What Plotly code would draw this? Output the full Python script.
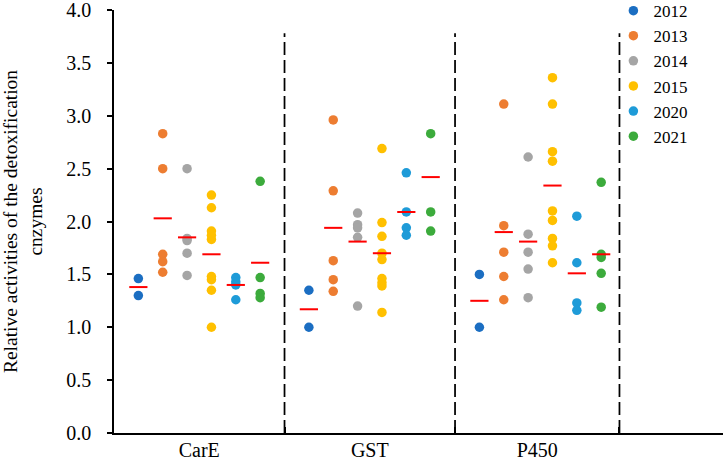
"""Scatter of relative detoxification enzyme activities by year, with mean dashes"""
import plotly.graph_objects as go

enzymes = ['CarE', 'GST', 'P450']
years = ['2012', '2013', '2014', '2015', '2020', '2021']
colours = ['#1b6ec2', '#ed7d31', '#a5a5a5', '#ffc000', '#1e9bd8', '#3cab3c']

# values per year, one list per enzyme (CarE, GST, P450)
v2012 = [[1.46, 1.30], [1.35, 1.00], [1.50, 1.00]]
v2013 = [[2.83, 2.50, 1.69, 1.62, 1.52],
         [2.96, 2.29, 1.63, 1.45, 1.34],
         [3.11, 1.96, 1.71, 1.48, 1.26]]
v2014 = [[2.50, 1.84, 1.82, 1.70, 1.49],
         [2.08, 1.97, 1.94, 1.85, 1.20],
         [2.61, 1.88, 1.71, 1.55, 1.28]]
v2015 = [[2.25, 2.13, 1.91, 1.87, 1.83, 1.48, 1.45, 1.35, 1.00],
         [2.69, 1.99, 1.86, 1.70, 1.64, 1.46, 1.42, 1.39, 1.14],
         [3.36, 3.11, 2.66, 2.57, 2.10, 2.01, 1.84, 1.77, 1.61]]
v2020 = [[1.47, 1.43, 1.40, 1.26],
         [2.46, 2.09, 1.94, 1.87],
         [2.05, 1.61, 1.23, 1.16]]
v2021 = [[2.38, 1.47, 1.32, 1.28],
         [2.83, 2.09, 1.91],
         [2.37, 1.69, 1.66, 1.51, 1.19]]

# mean dash per year (CarE, GST, P450)
m2012 = [1.38, 1.17, 1.25]
m2013 = [2.03, 1.94, 1.90]
m2014 = [1.85, 1.81, 1.81]
m2015 = [1.69, 1.70, 2.34]
m2020 = [1.40, 2.09, 1.51]
m2021 = [1.61, 2.42, 1.69]

# x layout: each enzyme block holds 6 year slots plus a gap
block_edges = [7, 14, 20.75]
block_centres = [3.5, 10.5, 17.375]
divider_top = 3.78

values = [v2012, v2013, v2014, v2015, v2020, v2021]
means = [m2012, m2013, m2014, m2015, m2020, m2021]

FONT = 'Liberation Serif'

fig = go.Figure()

for yi, (year, colour) in enumerate(zip(years, colours)):
    xs, ys = [], []
    for ei in range(len(enzymes)):
        for val in values[yi][ei]:
            xs.append(ei * 7 + yi + 1)
            ys.append(val)
    fig.add_trace(go.Scatter(
        x=xs, y=ys, mode='markers', name=year,
        marker={'color': colour, 'size': 9.5},
    ))

mx, my = [], []
for yi in range(len(years)):
    for ei in range(len(enzymes)):
        mx.append(ei * 7 + yi + 1)
        my.append(means[yi][ei])
fig.add_trace(go.Scatter(
    x=mx, y=my, mode='markers', showlegend=False, hoverinfo='skip',
    marker={'symbol': 'line-ew', 'size': 13, 'color': 'red',
            'line': {'color': '#ff0000', 'width': 2}},
))

dx, dy = [], []
for edge in block_edges:
    dx += [edge, edge, None]
    dy += [0, divider_top, None]
fig.add_trace(go.Scatter(
    x=dx, y=dy, mode='lines', showlegend=False, hoverinfo='skip',
    line={'color': 'black', 'width': 1.75, 'dash': '13px,5px'},
))

fig.update_layout(
    width=726, height=457,
    margin={'l': 114, 'r': 3, 't': 10, 'b': 24, 'autoexpand': False},
    paper_bgcolor='white', plot_bgcolor='white',
    font={'family': FONT, 'size': 20, 'color': 'black'},
    legend={'x': 0.82, 'y': 1.04, 'xanchor': 'left', 'yanchor': 'top',
            'font': {'size': 17}, 'tracegroupgap': 0, 'itemwidth': 30,
            'bgcolor': 'rgba(0,0,0,0)'},
    xaxis={
        'range': [0, 25], 'showgrid': False, 'zeroline': False,
        'showline': True, 'linecolor': 'black', 'linewidth': 1.5,
        'tickmode': 'array', 'tickvals': block_centres, 'ticktext': enzymes,
        'ticks': '', 'tickfont': {'size': 20}, 'automargin': False,
        'ticklabelstandoff': -2, 'ticklabeloverflow': 'allow',
        'minor': {'tickmode': 'array', 'tickvals': block_edges,
                  'ticks': 'inside', 'ticklen': 6, 'tickcolor': 'black',
                  'tickwidth': 1.5, 'showgrid': False},
    },
    yaxis={
        'range': [0, 4], 'dtick': 0.5, 'tickformat': '.1f',
        'showgrid': False, 'zeroline': False,
        'showline': True, 'linecolor': 'black', 'linewidth': 1.5,
        'ticks': 'outside', 'ticklen': 5, 'tickcolor': 'black',
        'tickwidth': 1.5, 'tickfont': {'size': 20}, 'automargin': False,
        'ticklabelstandoff': 12, 'ticklabeloverflow': 'allow',
        'title': {'text': 'Relative activities of the detoxification<br>cnzymes',
                  'font': {'size': 19.5}, 'standoff': 20},
    },
)

# the page's default body margin would shift the figure by 8px
fig.write_html('out.html', config={'displayModeBar': False},
               post_script="document.body.style.margin='0';")
